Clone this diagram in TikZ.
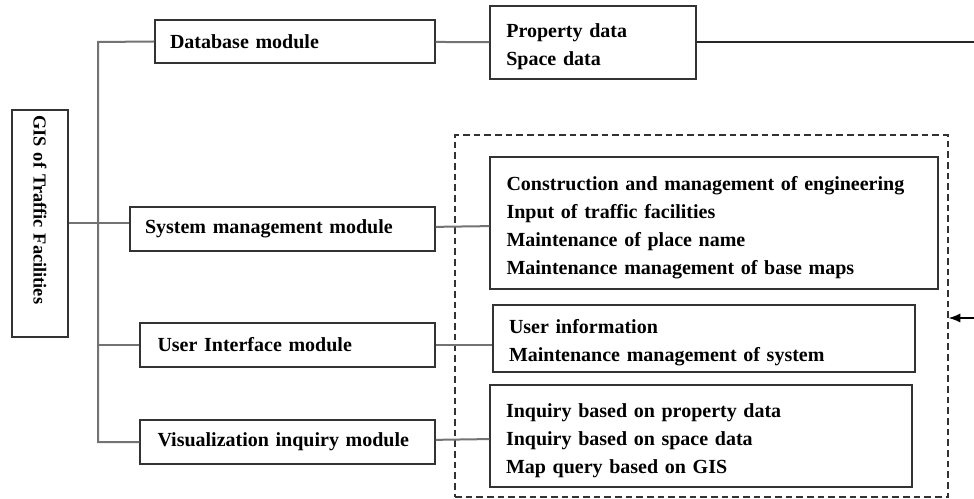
\documentclass[tikz,border=0pt]{standalone}
\usepackage{fontspec}
\setmainfont{Liberation Serif}
\usetikzlibrary{arrows.meta}

\tikzset{
	box/.style={draw=black!80, line width=0.8pt, font=\bfseries\fontsize{12}{16.8}\selectfont, align=left, inner xsep=0pt, inner ysep=0pt},
	listbox/.style={box, execute at begin node={\rule{0pt}{13.6pt}}},
	link/.style={draw=black!55, line width=1.2pt},
}

\begin{document}
\begin{tikzpicture}[x=0.6pt, y=-0.6pt]
			\useasboundingbox (0,0) rectangle (974,499);
			
			\node[box, font=\bfseries\fontsize{11}{14}\selectfont, rotate=-90, minimum width=136.2pt, minimum height=33.6pt, text width=130pt] (gis) at (40,223.5) {GIS of Traffic Facilities};
			
			\node[box, minimum width=168pt, minimum height=25.8pt, text width=150pt] (db) at (295,41.5) {Database module};
			\node[box, minimum width=183pt, minimum height=26.4pt, text width=165pt] (sys) at (282.5,229) {System management module};
			\node[box, minimum width=177pt, minimum height=26.4pt, text width=156pt] (ui) at (287.5,345) {User Interface module};
			\node[box, minimum width=177pt, minimum height=26.4pt, text width=156pt] (vis) at (287.5,442) {Visualization inquiry module};
			
			\node[listbox, minimum width=123.6pt, minimum height=43.8pt, text width=104pt] (prop) at (593,42.5) {Property data\\Space data};
			\node[listbox, minimum width=268.8pt, minimum height=79.2pt, text width=249pt] (con) at (714,223) {Construction and management of engineering\\Input of traffic facilities\\Maintenance of place name\\Maintenance management of base maps};
			\node[listbox, minimum width=253.2pt, minimum height=40.2pt, text width=234pt] (usr) at (704,338.5) {User information\\Maintenance management of system};
			\node[listbox, minimum width=253.2pt, minimum height=61.2pt, text width=234pt] (inq) at (701,436) {Inquiry based on property data\\Inquiry based on space data\\Map query based on GIS};
			
			\node[draw=black!80, line width=0.8pt, dash pattern=on 4pt off 2.4pt, minimum width=295.8pt, minimum height=217.2pt] (grp) at (701.5,316) {};
			
			\coordinate (tr) at (98,42);
			\coordinate (out) at (974,42);
			\coordinate (in) at (974,318);
			
			\draw[link] (db.west) -- (tr) |- (vis.west);
			\draw[link] (ui.west) -- (ui.west -| tr);
			\draw[link] (gis.north) -- (gis.north -| sys.west);
			\draw[link] (db) -- (prop);
			\draw[link] (sys) -- (con);
			\draw[link] (ui.east) -- (ui.east -| usr.west);
			\draw[link] (vis) -- (inq);
			\draw[draw=black!85, line width=0.9pt] (prop.east |- out) -- (out);
			\draw[-{Latex[length=7pt,width=5.5pt]}, line width=0.8pt] (in) -- (in -| grp.east);
		\end{tikzpicture}
\end{document}
